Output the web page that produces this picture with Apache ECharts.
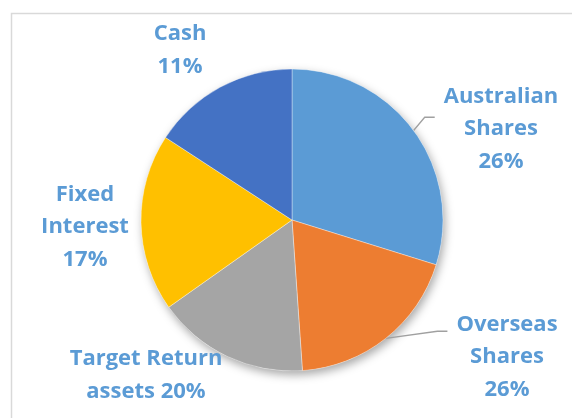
<!DOCTYPE html>
<html>
<head>
<meta charset="utf-8">
<script src="https://cdn.jsdelivr.net/npm/echarts@6/dist/echarts.min.js"></script>
<style>
  html, body { margin: 0; padding: 0; background: #fff; }
  #container { width: 572px; height: 418px; }
</style>
</head>
<body>
<div id="container"></div>
<script>
// slice sizes as drawn, and the percentage text printed on each label
var categories = ['Australian\nShares', 'Overseas\nShares', 'Target Return\nassets', 'Fixed\nInterest', 'Cash'];
var values = [29.8, 19.1, 16.3, 19.0, 15.8];
var labelPct = ['26%', '26%', '20%', '17%', '11%'];
var colors = ['#5B9BD5', '#ED7D31', '#A5A5A5', '#FFC000', '#4472C4'];

// label centres (px), and where the leader line meets the label (offset from label top)
var labelPos = [[501, 129], [507, 357], [146, 375], [85, 227], [180, 50]];
var showLine = [true, true, false, false, false];
var lineAttachY = [37, 23, 0, 0, 0];

var myChart = echarts.init(document.getElementById('container'));

var data = [];
for (var i = 0; i < values.length; i++) {
  data.push({
    name: categories[i],
    value: values[i],
    itemStyle: { color: colors[i] },
    labelLine: { show: showLine[i] }
  });
}

var total = 0;
values.forEach(function (v) { total += v; });

var option = {
  backgroundColor: '#fff',
  animation: false,
  graphic: [{
    type: 'rect',
    left: 9, top: 11,
    shape: { width: 600, height: 500 },
    style: { fill: 'none', stroke: '#d9d9d9', lineWidth: 1.5 },
    z: -10
  }],
  series: [
    {
      // shadow under the whole pie
      type: 'pie',
      silent: true,
      center: [292, 220],
      radius: 151,
      label: { show: false },
      labelLine: { show: false },
      data: [{ value: total, itemStyle: { color: '#fff', shadowBlur: 10, shadowOffsetX: 2, shadowOffsetY: 4, shadowColor: 'rgba(0,0,0,0.35)' } }],
      z: 1
    },
    {
      type: 'pie',
      center: [292, 220],
      radius: 151,
      startAngle: 90,
      clockwise: true,
      avoidLabelOverlap: false,
      itemStyle: { borderColor: 'rgba(255,255,255,0.6)', borderWidth: 0.6 },
      label: {
        show: true,
        position: 'outside',
        fontFamily: 'Open Sans',
        fontWeight: 'bold',
        fontSize: 22,
        lineHeight: 32.5,
        color: '#5B9BD5',
        align: 'center',
        formatter: function (p) {
          if (p.dataIndex === 2) return 'Target Return\nassets ' + labelPct[2];
          return p.name + '\n' + labelPct[p.dataIndex];
        }
      },
      labelLine: {
        length: 12,
        length2: 10,
        lineStyle: { color: '#a0a0a0', width: 1.3 }
      },
      labelLayout: function (p) {
        var idx = p.dataIndex;
        var pos = labelPos[idx];
        var out = { x: pos[0], y: pos[1], align: 'center', verticalAlign: 'middle' };
        if (showLine[idx] && p.labelLinePoints) {
          var w = p.labelRect.width, h = p.labelRect.height;
          var left = pos[0] - w / 2;
          var top = pos[1] - h / 2;
          var start = p.labelLinePoints[0];
          var endX = left - 9;
          var endY = top + lineAttachY[idx];
          out.labelLinePoints = [start, [endX - 10, endY], [endX, endY]];
        }
        return out;
      },
      data: data,
      z: 2
    }
  ]
};

myChart.setOption(option);
</script>
</body>
</html>
